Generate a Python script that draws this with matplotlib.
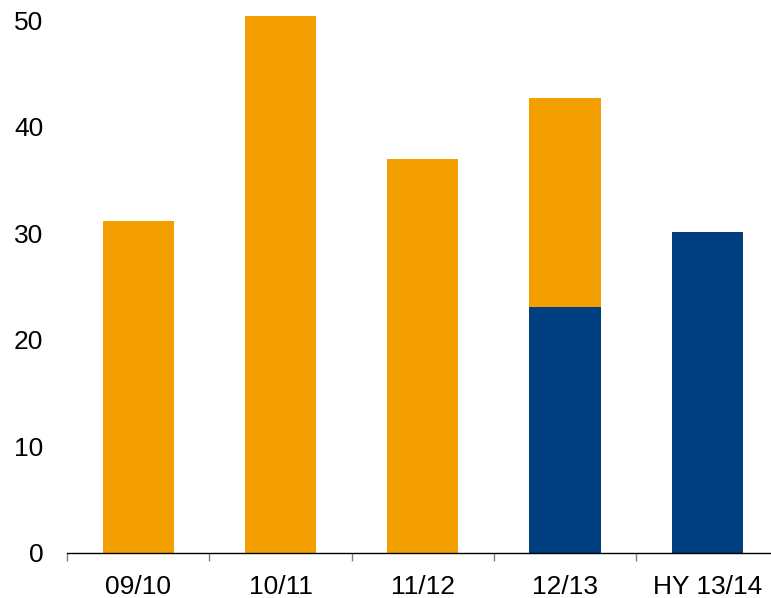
import matplotlib
matplotlib.use("Agg")
import matplotlib.pyplot as plt
import numpy as np

categories = ["09/10", "10/11", "11/12", "12/13", "HY 13/14"]
navy_values = [0, 0, 0, 23.1, 30.1]
orange_values = [31.1, 50.4, 37.0, 19.6, 0]
y_ticks = [0, 10, 20, 30, 40, 50]

plt.rcParams['font.family'] = ['Liberation Sans', 'DejaVu Sans']

fig = plt.figure(figsize=(7.71, 5.98), dpi=100)
W, H = 771, 598
left_px, bottom_px = 67, 553
unit_px = 142.3
ymax = 51.5
y_px = 10.66
ax = fig.add_axes([left_px / W, (H - bottom_px) / H, 5 * unit_px / W, ymax * y_px / H])

x = np.arange(len(categories))
ax.bar(x, navy_values, width=0.5, color="#003F80")
ax.bar(x, orange_values, width=0.5, bottom=navy_values, color="#F39F00")

ax.set_xlim(-0.5, 4.5)
ax.set_ylim(0, ymax)
ax.set_yticks(y_ticks)
ax.set_yticklabels([str(v) for v in y_ticks], fontsize=19)
ax.set_xticks(x)
ax.set_xticklabels(categories, fontsize=19)
ax.set_xticks(np.arange(-0.5, 5.0, 1.0), minor=True)
ax.tick_params(axis='x', which='major', length=0, pad=16)
ax.tick_params(axis='x', which='minor', length=6, width=1, color="#808080", direction='out')
ax.tick_params(axis='y', length=0, pad=17)

for s in ['top', 'right', 'left']:
    ax.spines[s].set_visible(False)
ax.spines['bottom'].set_linewidth(1.0)
ax.spines['bottom'].set_color('black')

fig.savefig("out.png", dpi=100)
